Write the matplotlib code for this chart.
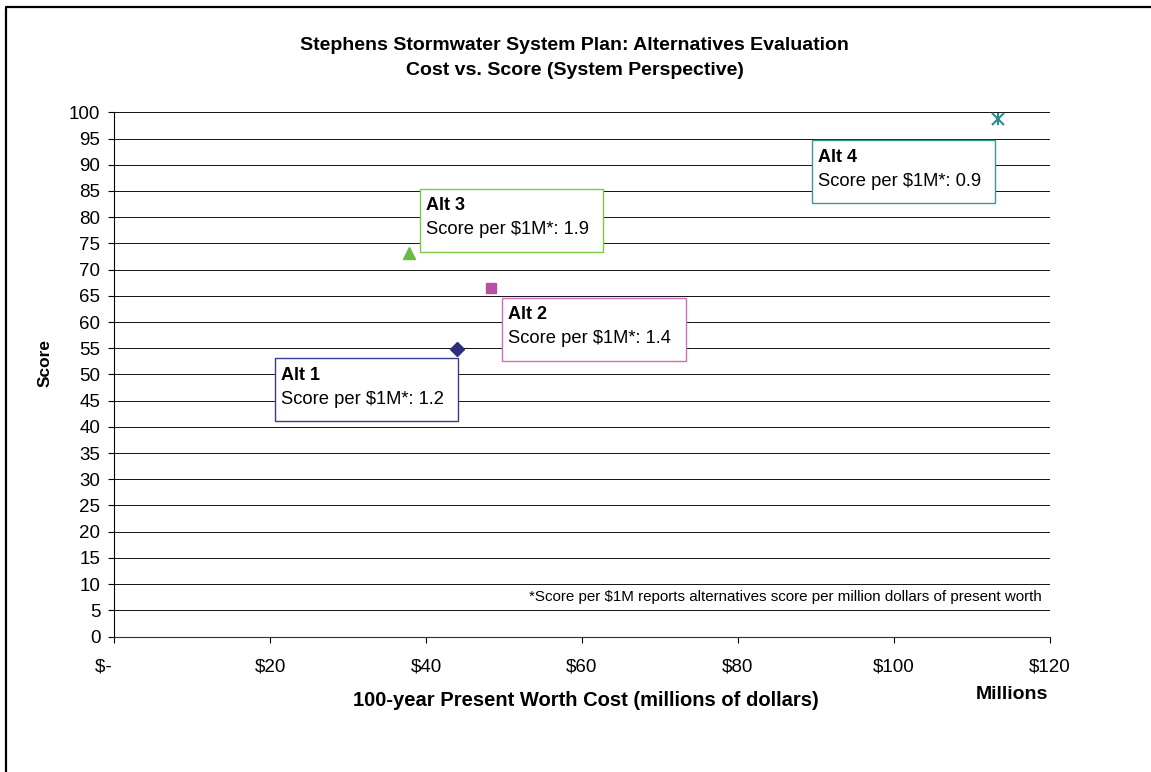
import matplotlib.pyplot as plt
from matplotlib.lines import Line2D
from matplotlib.patches import Rectangle

plt.rcParams['font.family'] = ['Liberation Sans', 'DejaVu Sans']

# cost (millions of dollars) and score for each alternative
alts = ["Alt 1", "Alt 2", "Alt 3", "Alt 4"]
cost = [44.0, 48.3, 37.8, 113.4]
score = [54.8, 66.4, 73.2, 98.8]

markers = ["D", "s", "^", "x"]
marker_colors = ["#2E2E7E", "#BB4FA6", "#66BB44", "#2E8B8B"]
box_colors = ["#3A3A8A", "#CC6EBB", "#77CC44", "#3A9A9A"]
# top-left corner of each label box, in data units
box_xy = [(20.6, 53.1), (49.8, 64.6), (39.2, 85.4), (89.5, 94.7)]
box_w = 23.5
box_h = 12.0

xticks = [0, 20, 40, 60, 80, 100, 120]
xticklabels = ["$-    ", "$20", "$40", "$60", "$80", "$100", "$120"]

fig = plt.figure(figsize=(11.51, 7.72), dpi=100)
ax = fig.add_axes([0.0993, 0.1755, 0.8127, 0.679])

for i in range(len(alts)):
    if markers[i] == "x":
        ax.plot(cost[i], score[i], marker="x", ms=8, mew=1.5, color=marker_colors[i], ls="none", zorder=5)
        ax.plot(cost[i], score[i], marker="|", ms=8, mew=1.5, color=marker_colors[i], ls="none", zorder=5)
    else:
        ms = {"D": 7.5, "s": 7, "^": 9}[markers[i]]
        ax.plot(cost[i], score[i], marker=markers[i], ms=ms, color=marker_colors[i], ls="none", zorder=5)

    bx, by = box_xy[i]
    ax.add_patch(Rectangle((bx, by - box_h), box_w, box_h, facecolor="white",
                           edgecolor=box_colors[i], lw=1.0, zorder=4))
    ax.annotate(alts[i], xy=(bx, by), xytext=(6, -17), textcoords="offset pixels",
                fontsize=13, fontweight="bold", va="center", ha="left", zorder=6)
    ratio = score[i] / cost[i]
    ax.annotate("Score per $1M*: %.1f" % ratio, xy=(bx, by), xytext=(6, -41),
                textcoords="offset pixels", fontsize=13.2, va="center", ha="left", zorder=6)

ax.set_xlim(0, 120)
ax.set_ylim(0, 100)
ax.set_xticks(xticks)
ax.set_xticklabels(xticklabels)
ax.set_yticks(range(0, 101, 5))
ax.yaxis.grid(True, color="#111111", lw=0.7)
ax.set_axisbelow(True)
ax.tick_params(axis="both", labelsize=13.5, direction="out", length=4, color="black")
ax.tick_params(axis="x", pad=11.5)
ax.tick_params(axis="y", pad=6)
ax.spines["top"].set_visible(False)
ax.spines["right"].set_visible(False)
ax.spines["left"].set_color("black")
ax.spines["bottom"].set_color("#333333")

ax.text(0.992, 7.5, "*Score per $1M reports alternatives score per million dollars of present worth",
        transform=ax.get_yaxis_transform(), ha="right", va="center", fontsize=10.9,
        bbox=dict(facecolor="white", edgecolor="none", pad=1))

fig.text(0.4995, 0.9405, "Stephens Stormwater System Plan: Alternatives Evaluation",
         ha="center", va="center", fontsize=14, fontweight="bold")
fig.text(0.4995, 0.909, "Cost vs. Score (System Perspective)",
         ha="center", va="center", fontsize=14, fontweight="bold")
fig.text(0.039, 0.530, "Score", rotation=90, ha="center", va="center", fontsize=12.5, fontweight="bold")
fig.text(0.509, 0.093, "100-year Present Worth Cost (millions of dollars)",
         ha="center", va="center", fontsize=14.5, fontweight="bold")
fig.text(0.879, 0.101, "Millions", ha="center", va="center", fontsize=14, fontweight="bold")

# outer frame (top and left edges)
fig.add_artist(Line2D([0.005, 0.005, 1.0], [0.0, 0.9915, 0.9915], transform=fig.transFigure,
                      color="black", lw=1.6))

fig.savefig("out.png", dpi=100)
